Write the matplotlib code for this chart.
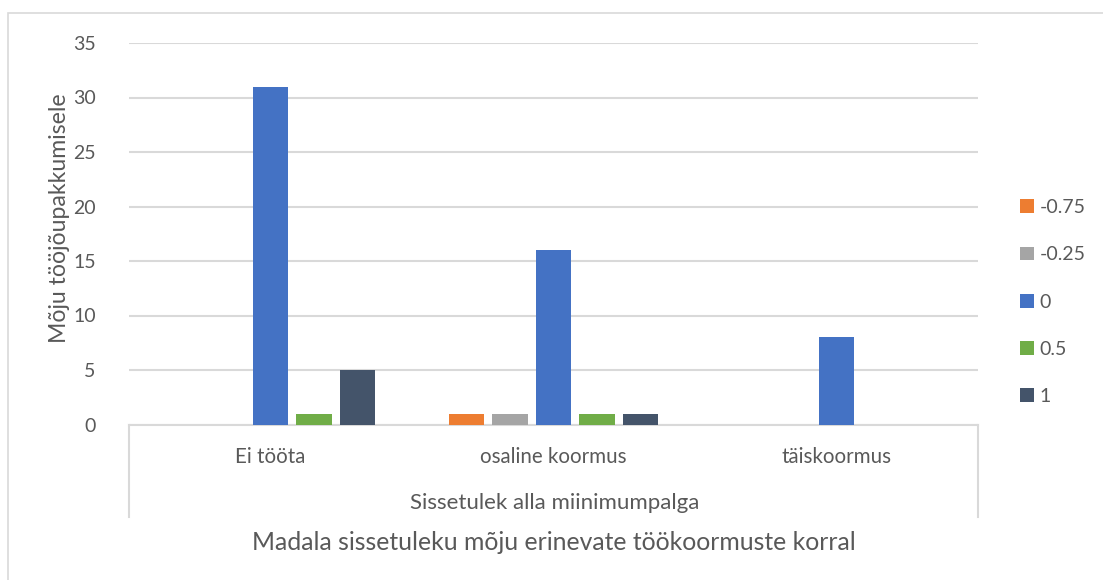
import numpy as np
import matplotlib
matplotlib.use("Agg")
import matplotlib.pyplot as plt
from matplotlib.patches import Rectangle
from matplotlib.lines import Line2D
from matplotlib.transforms import blended_transform_factory

# ---- data ----
categories = ["Ei tööta", "osaline koormus", "täiskoormus"]
outer_group = "Sissetulek alla miinimumpalga"
series_names = ["-0.75", "-0.25", "0", "0.5", "1"]
s_m075 = [0, 1, 0]
s_m025 = [0, 1, 0]
s_0 = [31, 16, 8]
s_05 = [1, 1, 0]
s_1 = [5, 1, 0]
series_values = [s_m075, s_m025, s_0, s_05, s_1]
colors = ["#ED7D31", "#A5A5A5", "#4472C4", "#70AD47", "#44546A"]

plt.rcParams["font.family"] = ["Lato", "DejaVu Sans"]
txt = "#595959"
grid_c = "#D9D9D9"

fig = plt.figure(figsize=(11.03, 5.8), dpi=100)
W, H = 1103, 580

# outer chart frame
fig.patches.append(Rectangle((8 / W, -0.05), 1.2, (H - 13) / H + 0.05,
                             transform=fig.transFigure, fill=False,
                             edgecolor=grid_c, linewidth=1.2))

ax = fig.add_axes([129 / W, 155.5 / H, 849 / W, 381.5 / H])

# ---- bars ----
x = np.arange(len(categories))
slot = 0.1537
width = 0.1237
handles = []
for i, (name, vals) in enumerate(zip(series_names, series_values)):
    b = ax.bar(x + (i - 2) * slot, vals, width, color=colors[i], label=name, zorder=3)
    handles.append(b)

ax.set_xlim(-0.5, 2.5)
ax.set_ylim(0, 35)
ax.set_yticks(range(0, 36, 5))
ax.yaxis.grid(True, color=grid_c, linewidth=1.5, zorder=0)
ax.set_axisbelow(True)
for s in ["top", "right", "left"]:
    ax.spines[s].set_visible(False)
ax.spines["bottom"].set_color(grid_c)
ax.spines["bottom"].set_linewidth(1.5)
ax.tick_params(axis="y", length=0, pad=24, labelsize=14, labelcolor=txt)
ax.set_xticks([])

# y axis title (sits a bit above the plot centre, like in Excel)
fig.text(59 / W, (H - 218) / H, "Mõju tööjõupakkumisele", rotation=90,
         ha="center", va="center", fontsize=16.6, color=txt)

# ---- multi-level category axis ----
for xp in [129 / W, 978 / W]:
    fig.add_artist(Line2D([xp, xp], [155.5 / H, 63 / H], transform=fig.transFigure,
                          color=grid_c, linewidth=1.5))
trans = blended_transform_factory(ax.transData, fig.transFigure)
for xi, lab in zip(x, categories):
    ax.text(xi, (H - 457) / H, lab, transform=trans, ha="center", va="center",
            fontsize=14.8, color=txt)
fig.text(555 / W, (H - 503) / H, outer_group, ha="center", va="center",
         fontsize=16, color=txt)
fig.text(554 / W, (H - 543) / H, "Madala sissetuleku mõju erinevate töökoormuste korral",
         ha="center", va="center", fontsize=17.8, color=txt)

# ---- legend ----
leg = fig.legend(handles=handles, loc="center left", bbox_to_anchor=(1002 / W, (H - 302) / H),
                 frameon=False, fontsize=14, labelcolor=txt, handlelength=0.72,
                 handleheight=0.72, handletextpad=0.3, labelspacing=1.55)

fig.savefig("out.png", dpi=100)
